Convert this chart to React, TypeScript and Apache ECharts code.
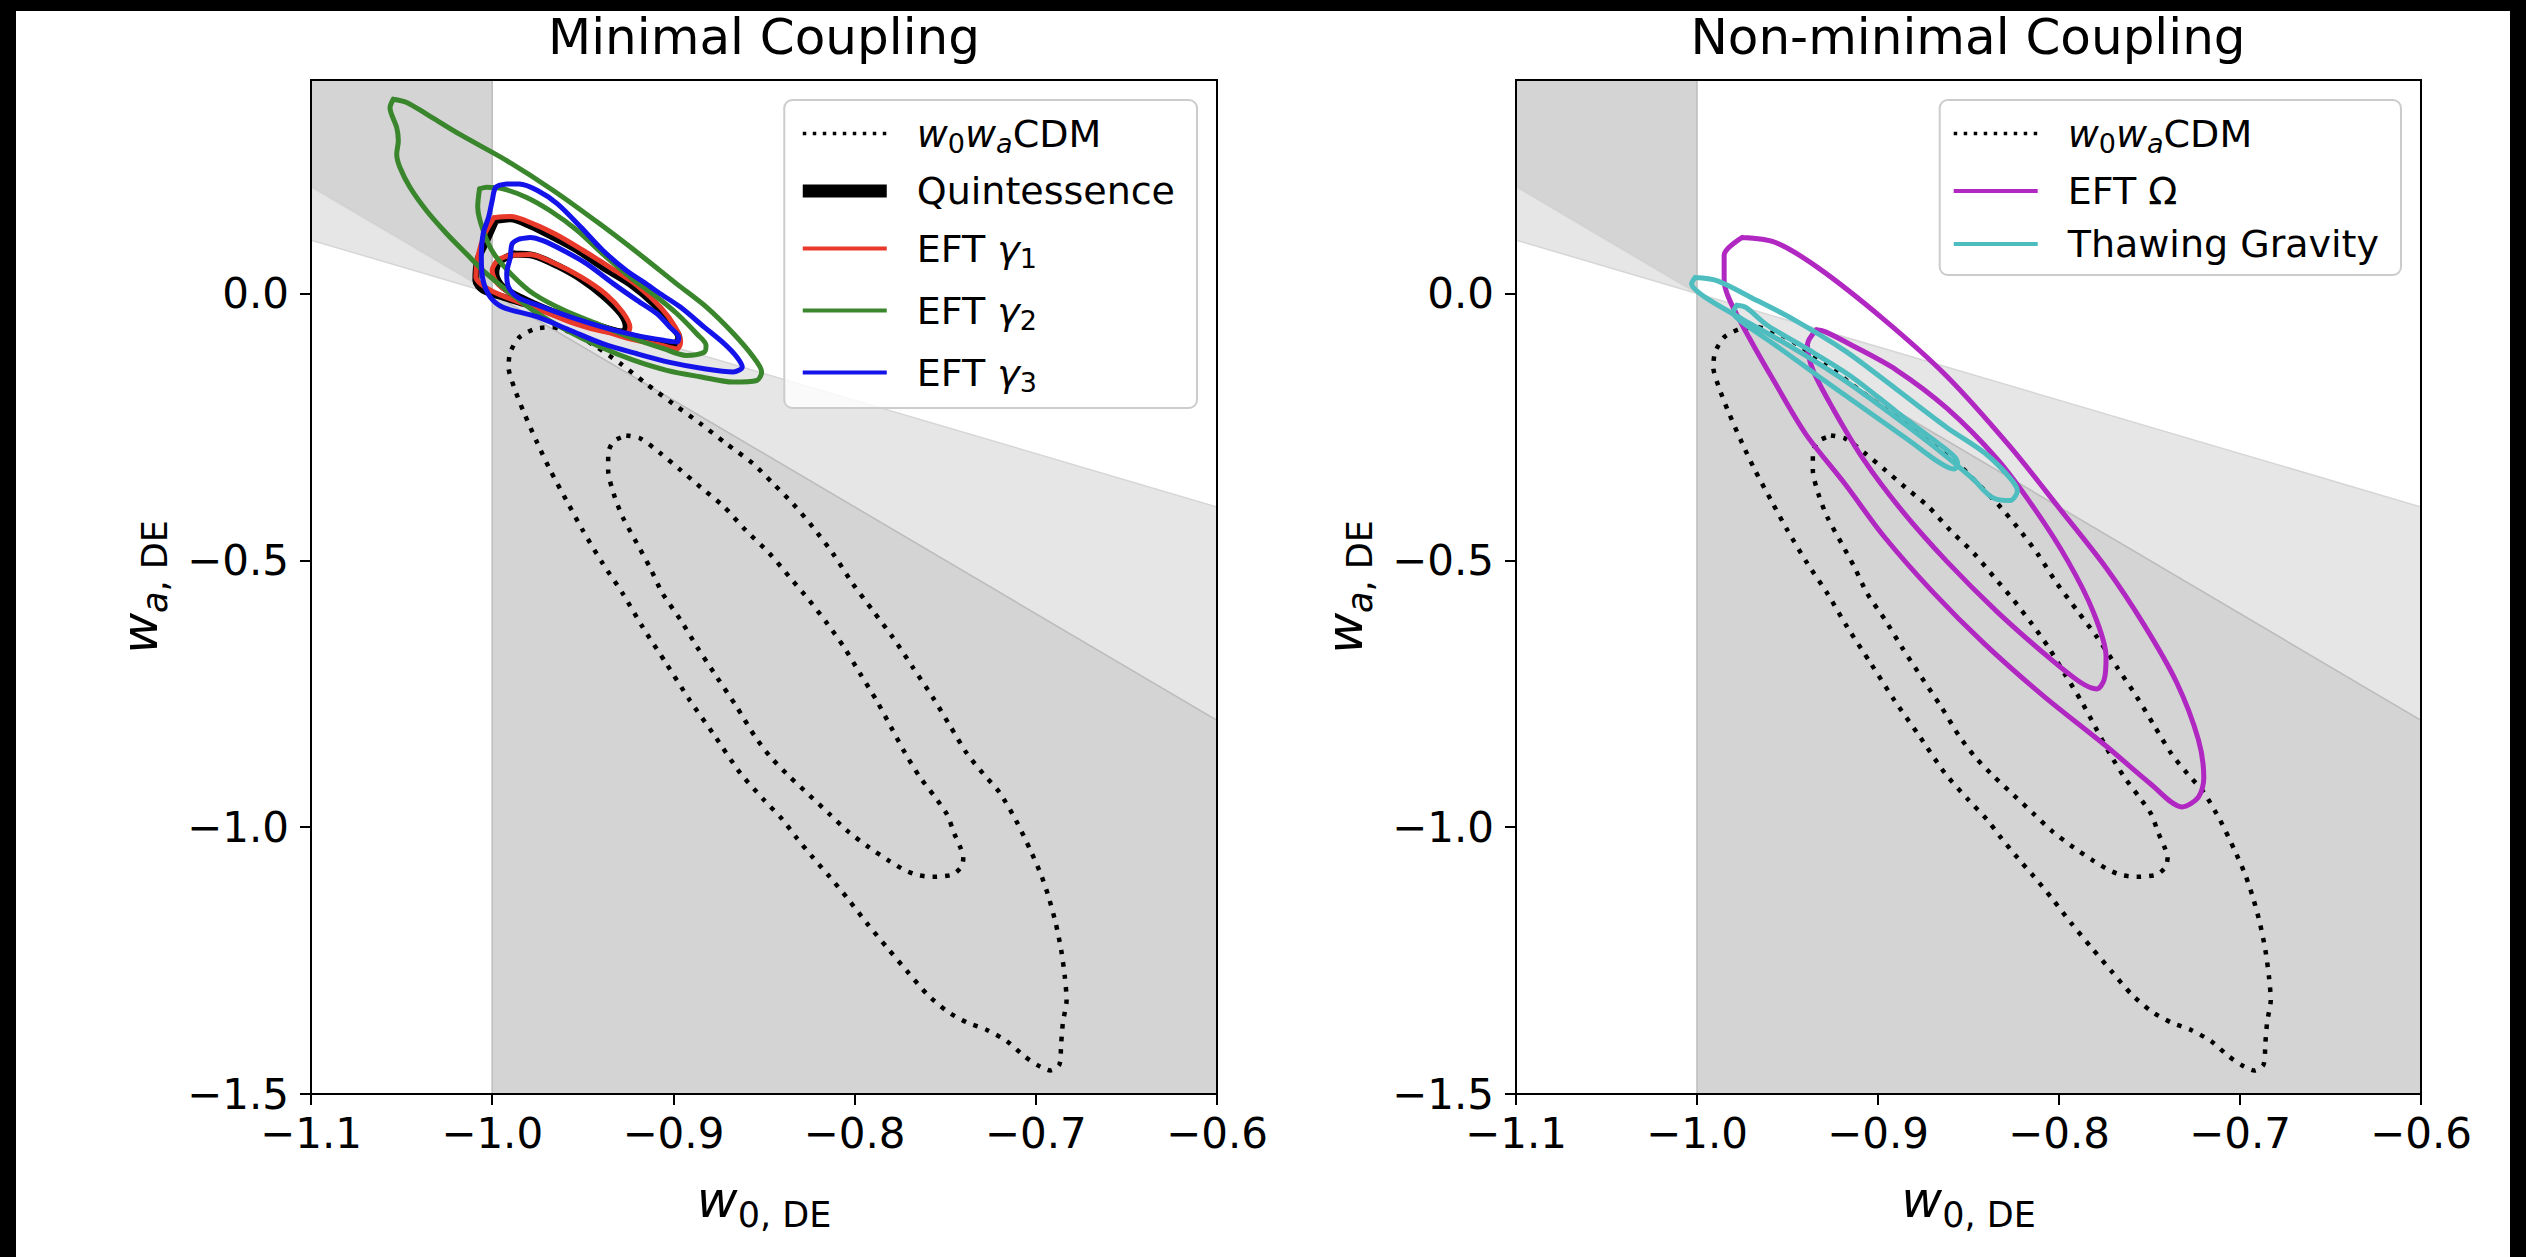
import React, { useEffect, useRef } from "react";
import * as echarts from "echarts";

// ---------- axes ----------
const X_RANGE = [-1.1, -0.6];
const Y_RANGE = [-1.5, 0.4];
const X_TICKS = [-1.1, -1.0, -0.9, -0.8, -0.7, -0.6];
const Y_TICKS = [-1.5, -1.0, -0.5, 0.0];

// ---------- shaded regions (data space vertices) ----------
const DARK_LEFT = [[-1.1, 0.4], [-1.0, 0.4], [-1.0, 0.0], [-1.1, 0.2]];
const LIGHT_LEFT = [[-1.1, 0.2], [-1.0, 0.0], [-1.1, 0.1]];
const LIGHT_RIGHT = [[-1.0, 0.0], [-0.6, -0.4], [-0.6, -0.8]];
const DARK_RIGHT = [[-1.0, 0.0], [-0.6, -0.8], [-0.6, -1.5], [-1.0, -1.5]];

// ---------- w0waCDM contours (both panels) ----------
const W0WA_OUTER = [
  [-0.966, -0.063], [-0.955, -0.075], [-0.942, -0.101], [-0.929, -0.132], [-0.915, -0.169],
  [-0.9, -0.207], [-0.885, -0.244], [-0.871, -0.281], [-0.856, -0.319], [-0.845, -0.356],
  [-0.834, -0.394], [-0.823, -0.438], [-0.812, -0.487], [-0.801, -0.544], [-0.79, -0.594],
  [-0.779, -0.644], [-0.768, -0.7], [-0.757, -0.756], [-0.747, -0.812], [-0.738, -0.862],
  [-0.729, -0.9], [-0.72, -0.935], [-0.711, -0.987], [-0.703, -1.043], [-0.697, -1.09],
  [-0.693, -1.13], [-0.689, -1.18], [-0.686, -1.23], [-0.684, -1.28], [-0.683, -1.324],
  [-0.685, -1.365], [-0.686, -1.405], [-0.687, -1.445], [-0.692, -1.456], [-0.699, -1.446],
  [-0.706, -1.43], [-0.716, -1.401], [-0.727, -1.38], [-0.738, -1.366], [-0.749, -1.345],
  [-0.76, -1.313], [-0.771, -1.27], [-0.782, -1.226], [-0.793, -1.181], [-0.804, -1.133],
  [-0.814, -1.092], [-0.823, -1.057], [-0.832, -1.02], [-0.84, -0.985], [-0.85, -0.949],
  [-0.863, -0.899], [-0.878, -0.825], [-0.891, -0.762], [-0.904, -0.693], [-0.917, -0.625],
  [-0.928, -0.562], [-0.939, -0.506], [-0.95, -0.444], [-0.959, -0.388], [-0.968, -0.331],
  [-0.975, -0.281], [-0.983, -0.219], [-0.988, -0.175], [-0.991, -0.138], [-0.99, -0.11],
  [-0.985, -0.082], [-0.976, -0.066],
];
const W0WA_INNER = [
  [-0.926, -0.266], [-0.918, -0.272], [-0.907, -0.3], [-0.896, -0.331], [-0.885, -0.363],
  [-0.872, -0.4], [-0.86, -0.444], [-0.847, -0.487], [-0.836, -0.531], [-0.825, -0.575],
  [-0.815, -0.619], [-0.806, -0.662], [-0.797, -0.712], [-0.788, -0.762], [-0.78, -0.812],
  [-0.772, -0.862], [-0.764, -0.906], [-0.756, -0.942], [-0.749, -0.976], [-0.745, -1.012],
  [-0.742, -1.035], [-0.74, -1.056], [-0.741, -1.074], [-0.746, -1.089], [-0.757, -1.093],
  [-0.765, -1.09], [-0.772, -1.081], [-0.781, -1.063], [-0.792, -1.038], [-0.804, -1.007],
  [-0.814, -0.975], [-0.825, -0.94], [-0.836, -0.905], [-0.846, -0.87], [-0.855, -0.83],
  [-0.865, -0.775], [-0.876, -0.719], [-0.887, -0.662], [-0.896, -0.612], [-0.906, -0.562],
  [-0.913, -0.513], [-0.92, -0.469], [-0.928, -0.419], [-0.933, -0.375], [-0.936, -0.331],
  [-0.936, -0.3], [-0.933, -0.277],
];

// ---------- minimal coupling ----------
const QUINT_OUTER = [
  [-0.998, 0.137], [-0.99, 0.14], [-0.979, 0.127], [-0.966, 0.105], [-0.953, 0.081],
  [-0.939, 0.049], [-0.924, 0.018], [-0.911, -0.019], [-0.902, -0.057], [-0.897, -0.082],
  [-0.899, -0.094], [-0.907, -0.091], [-0.92, -0.082], [-0.939, -0.063], [-0.957, -0.044],
  [-0.975, -0.026], [-0.994, -0.007], [-1.005, 0.006], [-1.009, 0.024], [-1.008, 0.062],
  [-1.003, 0.099],
];
const QUINT_INNER = [
  [-0.988, 0.074], [-0.977, 0.071], [-0.964, 0.052], [-0.951, 0.027], [-0.939, -0.004],
  [-0.929, -0.038], [-0.926, -0.063], [-0.928, -0.072], [-0.939, -0.066], [-0.951, -0.054],
  [-0.966, -0.035], [-0.981, -0.013], [-0.994, 0.012], [-0.998, 0.037], [-0.996, 0.059],
];
const G1_OUTER = [
  [-0.999, 0.142], [-0.99, 0.144], [-0.977, 0.13], [-0.964, 0.109], [-0.95, 0.081],
  [-0.935, 0.049], [-0.92, 0.015], [-0.907, -0.026], [-0.899, -0.063], [-0.896, -0.091],
  [-0.898, -0.104], [-0.907, -0.097], [-0.924, -0.085], [-0.942, -0.066], [-0.963, -0.044],
  [-0.983, -0.019], [-1.001, 0.006], [-1.009, 0.031], [-1.008, 0.068], [-1.004, 0.112],
];
const G1_INNER = [
  [-0.991, 0.071], [-0.979, 0.073], [-0.966, 0.057], [-0.951, 0.031], [-0.937, -0.002],
  [-0.928, -0.035], [-0.924, -0.063], [-0.926, -0.076], [-0.939, -0.071], [-0.954, -0.057],
  [-0.97, -0.035], [-0.985, -0.01], [-0.997, 0.018], [-1.0, 0.043], [-0.997, 0.062],
];
const G2_OUTER = [
  [-1.0546, 0.364], [-1.0564, 0.348], [-1.0527, 0.311], [-1.0518, 0.286], [-1.0527, 0.261],
  [-1.0509, 0.236], [-1.0454, 0.199], [-1.0362, 0.155], [-1.0251, 0.112], [-1.0141, 0.074],
  [-1.0031, 0.037], [-0.992, 0.006], [-0.9773, -0.032], [-0.9589, -0.069], [-0.9405, -0.1],
  [-0.9221, -0.125], [-0.9037, -0.144], [-0.8853, -0.156], [-0.8669, -0.166], [-0.854, -0.163],
  [-0.8513, -0.147], [-0.8559, -0.119], [-0.8669, -0.075], [-0.8816, -0.026], [-0.8982, 0.018],
  [-0.9166, 0.068], [-0.9405, 0.13], [-0.9663, 0.193], [-0.992, 0.249], [-1.0178, 0.298],
  [-1.0362, 0.336], [-1.0472, 0.358],
];
const G2_INNER = [
  [-1.007, 0.196], [-1.008, 0.162], [-1.005, 0.118], [-0.999, 0.074], [-0.988, 0.031],
  [-0.977, -0.001], [-0.96, -0.032], [-0.942, -0.057], [-0.924, -0.082], [-0.905, -0.104],
  [-0.893, -0.116], [-0.883, -0.11], [-0.882, -0.097], [-0.887, -0.076], [-0.898, -0.038],
  [-0.909, -0.007], [-0.924, 0.031], [-0.939, 0.074], [-0.953, 0.118], [-0.968, 0.155],
  [-0.981, 0.18], [-0.994, 0.196], [-1.003, 0.199],
];
const G3_OUTER = [
  [-0.992, 0.205], [-0.998, 0.199], [-1.0, 0.174], [-1.002, 0.143], [-1.005, 0.112],
  [-1.006, 0.068], [-1.005, 0.024], [-1.001, -0.007], [-0.994, -0.026], [-0.975, -0.044],
  [-0.957, -0.069], [-0.939, -0.094], [-0.92, -0.113], [-0.902, -0.129], [-0.883, -0.141],
  [-0.867, -0.147], [-0.862, -0.138], [-0.865, -0.119], [-0.872, -0.094], [-0.883, -0.063],
  [-0.896, -0.026], [-0.907, -0.001], [-0.915, 0.018], [-0.926, 0.043], [-0.939, 0.081],
  [-0.951, 0.124], [-0.964, 0.168], [-0.975, 0.193], [-0.985, 0.205],
];
const G3_INNER = [
  [-0.985, 0.102], [-0.989, 0.093], [-0.99, 0.068], [-0.992, 0.037], [-0.991, 0.012],
  [-0.986, -0.007], [-0.975, -0.022], [-0.957, -0.044], [-0.939, -0.063], [-0.92, -0.079],
  [-0.905, -0.088], [-0.898, -0.091], [-0.897, -0.082], [-0.902, -0.063], [-0.909, -0.038],
  [-0.92, -0.013], [-0.933, 0.018], [-0.948, 0.056], [-0.961, 0.081], [-0.972, 0.099],
  [-0.979, 0.105],
];

// ---------- non-minimal coupling ----------
const OMEGA_OUTER = [
  [-0.975, 0.105], [-0.985, 0.072], [-0.985, 0.024], [-0.982, -0.012], [-0.971, -0.084],
  [-0.957, -0.167], [-0.94, -0.263], [-0.918, -0.358], [-0.897, -0.454], [-0.869, -0.562],
  [-0.841, -0.657], [-0.809, -0.753], [-0.774, -0.848], [-0.749, -0.92], [-0.732, -0.962],
  [-0.723, -0.944], [-0.72, -0.908], [-0.723, -0.836], [-0.735, -0.729], [-0.753, -0.621],
  [-0.774, -0.514], [-0.799, -0.406], [-0.827, -0.287], [-0.862, -0.155], [-0.897, -0.048],
  [-0.933, 0.048], [-0.957, 0.096],
];
const OMEGA_INNER = [
  [-0.934, -0.068], [-0.939, -0.096], [-0.936, -0.143], [-0.925, -0.215], [-0.908, -0.311],
  [-0.887, -0.406], [-0.862, -0.502], [-0.834, -0.597], [-0.806, -0.681], [-0.788, -0.729],
  [-0.779, -0.741], [-0.775, -0.723], [-0.774, -0.681], [-0.781, -0.597], [-0.795, -0.502],
  [-0.813, -0.406], [-0.834, -0.311], [-0.862, -0.215], [-0.89, -0.143], [-0.915, -0.096],
  [-0.929, -0.072],
];
const THAW_OUTER = [
  [-1.001, 0.03], [-1.003, 0.018], [-0.996, -0.006], [-0.975, -0.048], [-0.95, -0.096],
  [-0.922, -0.155], [-0.897, -0.215], [-0.869, -0.287], [-0.848, -0.346], [-0.837, -0.382],
  [-0.827, -0.388], [-0.823, -0.37], [-0.827, -0.346], [-0.841, -0.299], [-0.862, -0.251],
  [-0.89, -0.179], [-0.918, -0.108], [-0.947, -0.048], [-0.971, -0.006], [-0.989, 0.024],
];
const THAW_INNER = [
  [-0.978, -0.022], [-0.98, -0.036], [-0.975, -0.054], [-0.957, -0.096], [-0.933, -0.155],
  [-0.908, -0.215], [-0.883, -0.275], [-0.866, -0.317], [-0.858, -0.329], [-0.856, -0.32],
  [-0.858, -0.305], [-0.869, -0.275], [-0.89, -0.221], [-0.915, -0.155], [-0.94, -0.102],
  [-0.961, -0.06], [-0.973, -0.026],
];

// ---------- styling ----------
const FONT = "'DejaVu Sans', 'Liberation Sans', sans-serif";
const C_BLACK = "#000000";
const C_RED = "#e8392a";
const C_GREEN = "#3a862c";
const C_BLUE = "#1414ea";
const C_MAGENTA = "#b127c1";
const C_CYAN = "#4dbdbf";
const LW = 5;
const LW_QUINT = 7;
const LW_DOT = 4.5;

const REGIONS = [DARK_LEFT, LIGHT_LEFT, LIGHT_RIGHT, DARK_RIGHT];
const REGION_FILL = ["#d4d4d4", "#e6e6e6", "#e6e6e6", "#d4d4d4"];
const REGION_STROKE = ["#bcbcbc", "#d6d6d6", "#d6d6d6", "#bcbcbc"];

const fmt = (v: number) => {
  const s = Math.abs(v) < 1e-9 ? "0.0" : v.toFixed(1);
  return s.replace("-", "\u2212");
};

const AXIS_RICH = {
  w: { fontSize: 50, fontStyle: "italic", fontFamily: FONT, color: "#000", lineHeight: 60 },
  s: { fontSize: 35, fontFamily: FONT, color: "#000", lineHeight: 60, padding: [30, 0, 0, 0] },
  si: { fontSize: 35, fontStyle: "italic", fontFamily: FONT, color: "#000", lineHeight: 60, padding: [30, 0, 0, 0] },
};

const LEG_RICH = {
  t0: { fontSize: 38, fontFamily: FONT, color: "#000", lineHeight: 44, padding: [0, 0, 0, 25] },
  i0: { fontSize: 38, fontFamily: FONT, fontStyle: "italic", color: "#000", lineHeight: 44, padding: [0, 0, 0, 25] },
  t: { fontSize: 38, fontFamily: FONT, color: "#000", lineHeight: 44 },
  i: { fontSize: 38, fontFamily: FONT, fontStyle: "italic", color: "#000", lineHeight: 44 },
  s: { fontSize: 27, fontFamily: FONT, color: "#000", lineHeight: 44, padding: [20, 0, 0, 0] },
  si: { fontSize: 27, fontFamily: FONT, fontStyle: "italic", color: "#000", lineHeight: 44, padding: [20, 0, 0, 0] },
};

const LEG_TEXT: Record<string, string> = {
  w0waCDM: "{i0|w}{s|0}{i|w}{si|a}{t|CDM}",
  Quintessence: "{t0|Quintessence}",
  "EFT γ1": "{t0|EFT }{i|γ}{s|1}",
  "EFT γ2": "{t0|EFT }{i|γ}{s|2}",
  "EFT γ3": "{t0|EFT }{i|γ}{s|3}",
  "EFT Ω": "{t0|EFT Ω}",
  "Thawing Gravity": "{t0|Thawing Gravity}",
};

function contour(name: string, pts: number[][], g: number, color: string, width: number, dotted = false) {
  return {
    type: "line",
    name,
    xAxisIndex: g,
    yAxisIndex: g,
    data: [...pts, pts[0]],
    showSymbol: false,
    symbol: "none",
    smooth: dotted ? 0.25 : 0.3,
    silent: true,
    emphasis: { disabled: true },
    lineStyle: dotted
      ? { color, width, type: [4.5, 8], cap: "butt", join: "round" }
      : { color, width, type: "solid", cap: "round", join: "round" },
    z: 2,
  };
}

function regionSeries(g: number) {
  return {
    type: "custom",
    xAxisIndex: g,
    yAxisIndex: g,
    silent: true,
    z: 1,
    data: REGIONS.map((r) => r[0]),
    renderItem: (params: any, api: any) => {
      const i = params.dataIndex;
      const pts = REGIONS[i].map((p) => api.coord(p));
      return {
        type: "polygon",
        shape: { points: pts },
        style: { fill: REGION_FILL[i], stroke: REGION_STROKE[i], lineWidth: 1.5 },
      };
    },
  };
}

function xAxis(g: number) {
  return {
    type: "value",
    gridIndex: g,
    min: X_RANGE[0],
    max: X_RANGE[1],
    z: 5,
    splitLine: { show: false },
    axisLine: { show: true, onZero: false, lineStyle: { color: "#000", width: 2 } },
    axisTick: { show: true, inside: false, length: 11, lineStyle: { color: "#000", width: 2 }, customValues: X_TICKS },
    axisLabel: { show: true, customValues: X_TICKS, formatter: fmt, fontSize: 42, fontFamily: FONT, color: "#000", margin: 18 },
    name: "{w|w}{s|0, DE}",
    nameLocation: "middle",
    nameGap: 76,
    nameTextStyle: { rich: AXIS_RICH },
  };
}

function yAxis(g: number) {
  return {
    type: "value",
    gridIndex: g,
    min: Y_RANGE[0],
    max: Y_RANGE[1],
    z: 5,
    splitLine: { show: false },
    axisLine: { show: true, onZero: false, lineStyle: { color: "#000", width: 2 } },
    axisTick: { show: true, inside: false, length: 11, lineStyle: { color: "#000", width: 2 }, customValues: Y_TICKS },
    axisLabel: { show: true, customValues: Y_TICKS, formatter: fmt, fontSize: 42, fontFamily: FONT, color: "#000", margin: 22 },
    name: "{w|w}{si|a}{s|, DE}",
    nameLocation: "middle",
    nameGap: 141,
    nameTextStyle: { rich: AXIS_RICH },
  };
}

function legendItem(name: string, color: string, width: number, dotted = false) {
  return {
    name,
    itemStyle: { opacity: 0 },
    lineStyle: dotted
      ? { color, width, type: [3.5, 6.5], cap: "butt", opacity: 1 }
      : { color, width, type: "solid", cap: "butt", opacity: 1 },
  };
}

function legend(right: number, items: any[]) {
  return {
    orient: "vertical",
    right,
    top: 100,
    padding: [10, 22, 12, 12],
    itemGap: 15,
    itemWidth: 84,
    itemHeight: 14,
    backgroundColor: "rgba(255,255,255,0.8)",
    borderColor: "#cccccc",
    borderWidth: 2,
    borderRadius: 8,
    selectedMode: false,
    data: items,
    formatter: (n: string) => LEG_TEXT[n] || n,
    textStyle: { fontSize: 38, fontFamily: FONT, color: "#000", rich: LEG_RICH },
    z: 4,
  };
}

function buildOption() {
  const titleStyle = { fontSize: 50, fontFamily: FONT, fontWeight: "normal", color: "#000" };
  return {
    animation: false,
    backgroundColor: "transparent",
    title: [
      { text: "Minimal Coupling", left: 764, top: 12, textAlign: "center", padding: 0, textStyle: titleStyle },
      { text: "Non-minimal Coupling", left: 1968, top: 12, textAlign: "center", padding: 0, textStyle: titleStyle },
    ],
    grid: [
      { left: 311, top: 80, width: 906, height: 1014, show: true, borderColor: "#000", borderWidth: 2, backgroundColor: "transparent", z: 6, containLabel: false, outerBoundsMode: "none" },
      { left: 1516, top: 80, width: 905, height: 1014, show: true, borderColor: "#000", borderWidth: 2, backgroundColor: "transparent", z: 6, containLabel: false, outerBoundsMode: "none" },
    ],
    xAxis: [xAxis(0), xAxis(1)],
    yAxis: [yAxis(0), yAxis(1)],
    legend: [
      legend(1329, [
        legendItem("w0waCDM", C_BLACK, 3.5, true),
        legendItem("Quintessence", C_BLACK, 13),
        legendItem("EFT γ1", C_RED, 4),
        legendItem("EFT γ2", C_GREEN, 4),
        legendItem("EFT γ3", C_BLUE, 4),
      ]),
      legend(125, [
        legendItem("w0waCDM", C_BLACK, 3.5, true),
        legendItem("EFT Ω", C_MAGENTA, 4),
        legendItem("Thawing Gravity", C_CYAN, 4),
      ]),
    ],
    series: [
      regionSeries(0),
      contour("w0waCDM", W0WA_OUTER, 0, C_BLACK, LW_DOT, true),
      contour("w0waCDM", W0WA_INNER, 0, C_BLACK, LW_DOT, true),
      contour("Quintessence", QUINT_OUTER, 0, C_BLACK, LW_QUINT),
      contour("Quintessence", QUINT_INNER, 0, C_BLACK, LW_QUINT),
      contour("EFT γ1", G1_OUTER, 0, C_RED, LW),
      contour("EFT γ1", G1_INNER, 0, C_RED, LW),
      contour("EFT γ2", G2_OUTER, 0, C_GREEN, LW),
      contour("EFT γ2", G2_INNER, 0, C_GREEN, LW),
      contour("EFT γ3", G3_OUTER, 0, C_BLUE, LW),
      contour("EFT γ3", G3_INNER, 0, C_BLUE, LW),
      regionSeries(1),
      contour("w0waCDM", W0WA_OUTER, 1, C_BLACK, LW_DOT, true),
      contour("w0waCDM", W0WA_INNER, 1, C_BLACK, LW_DOT, true),
      contour("EFT Ω", OMEGA_OUTER, 1, C_MAGENTA, LW),
      contour("EFT Ω", OMEGA_INNER, 1, C_MAGENTA, LW),
      contour("Thawing Gravity", THAW_OUTER, 1, C_CYAN, LW),
      contour("Thawing Gravity", THAW_INNER, 1, C_CYAN, LW),
    ],
  };
}

export default function App() {
  const ref = useRef<HTMLDivElement>(null);
  useEffect(() => {
    if (!ref.current) return;
    const chart = echarts.init(ref.current, null, { renderer: "svg", width: 2526, height: 1257 });
    chart.setOption(buildOption() as any);
    return () => chart.dispose();
  }, []);
  return (
    <div style={{ position: "fixed", left: 0, top: 0, width: 2526, height: 1257, background: "#000", overflow: "hidden" }}>
      <div style={{ position: "absolute", left: 16, top: 11, width: 2494, height: 1246, background: "#fff" }} />
      <div ref={ref} style={{ position: "absolute", left: 0, top: 0, width: 2526, height: 1257 }} />
    </div>
  );
}
